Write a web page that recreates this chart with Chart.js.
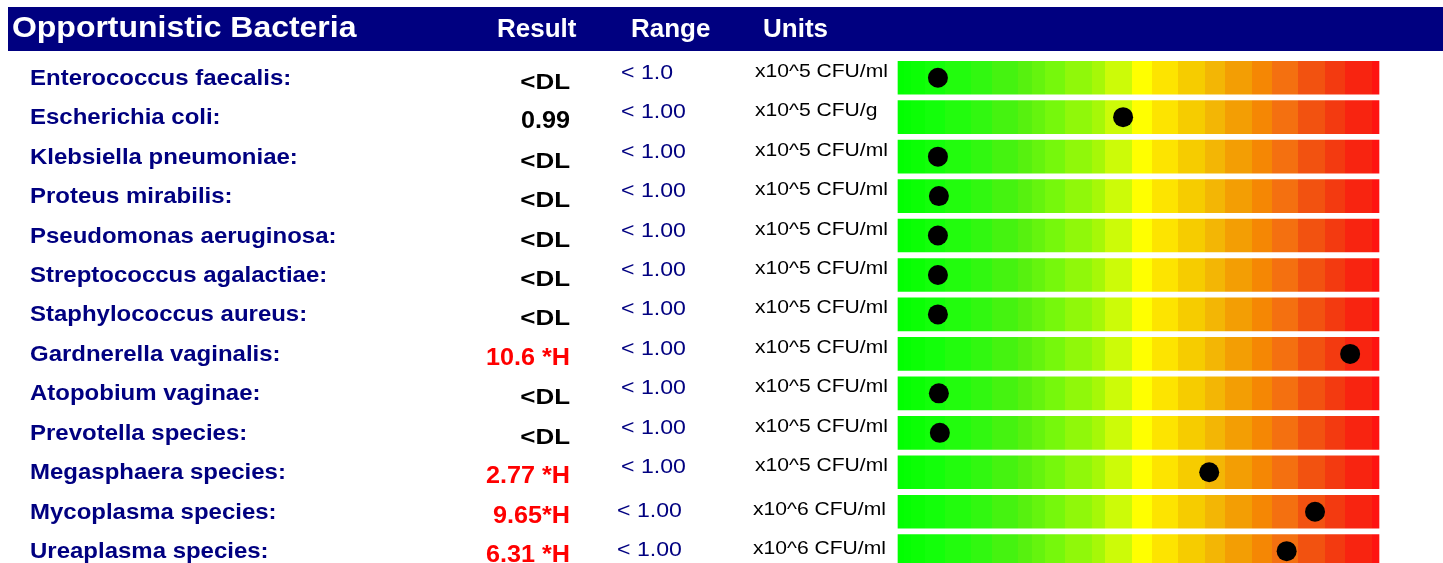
<!DOCTYPE html>
<html>
<head>
<meta charset="utf-8">
<script src="https://cdn.jsdelivr.net/npm/chart.js@4.4.1/dist/chart.umd.min.js"></script>
<style>
  html, body { margin: 0; padding: 0; background: #fff; overflow: hidden; }
  canvas { display: block; }
</style>
</head>
<body>
<canvas id="chart" width="1443" height="563"></canvas>
<script>
const title = 'Opportunistic Bacteria';
const headers = ['Result', 'Range', 'Units'];
const organisms = [
  'Enterococcus faecalis:', 'Escherichia coli:', 'Klebsiella pneumoniae:', 'Proteus mirabilis:',
  'Pseudomonas aeruginosa:', 'Streptococcus agalactiae:', 'Staphylococcus aureus:',
  'Gardnerella vaginalis:', 'Atopobium vaginae:', 'Prevotella species:', 'Megasphaera species:',
  'Mycoplasma species:', 'Ureaplasma species:'
];
const results = ['<DL', '0.99', '<DL', '<DL', '<DL', '<DL', '<DL', '10.6 *H', '<DL', '<DL', '2.77 *H', '9.65*H', '6.31 *H'];
const ranges = ['< 1.0', '< 1.00', '< 1.00', '< 1.00', '< 1.00', '< 1.00', '< 1.00', '< 1.00', '< 1.00', '< 1.00', '< 1.00', '< 1.00', '< 1.00'];
const units = [
  'x10^5 CFU/ml', 'x10^5 CFU/g', 'x10^5 CFU/ml', 'x10^5 CFU/ml', 'x10^5 CFU/ml', 'x10^5 CFU/ml',
  'x10^5 CFU/ml', 'x10^5 CFU/ml', 'x10^5 CFU/ml', 'x10^5 CFU/ml', 'x10^5 CFU/ml', 'x10^6 CFU/ml', 'x10^6 CFU/ml'
];
// marker position along the gauge (0 = left end, 100 = right end)
const gaugePos = [8.3, 46.8, 8.3, 8.5, 8.3, 8.3, 8.3, 94.0, 8.5, 8.7, 64.7, 86.7, 80.8];
const gaugeMax = 100;

const NAVY = '#000080';
const FONT = '"Liberation Sans", Arial, Helvetica, sans-serif';

// colour bands of the gauge (edges as fraction of width) and key colours
const bandEdges = [0, .012, .028, .056, .098, .152, .195, .25, .278, .306, .347, .403, .43,
  .486, .528, .583, .638, .68, .735, .777, .832, .888, .929, .985, 1];
const keyColors = [
  [0, [0, 255, 0]], [0.08, [20, 255, 10]], [0.17, [48, 248, 16]], [0.25, [80, 240, 16]],
  [0.33, [120, 248, 12]], [0.42, [168, 248, 8]], [0.47, [216, 252, 8]], [0.507, [255, 255, 0]],
  [0.56, [253, 226, 0]], [0.62, [245, 200, 0]], [0.68, [242, 172, 8]], [0.74, [245, 142, 0]],
  [0.80, [244, 114, 16]], [0.86, [242, 82, 16]], [0.93, [244, 48, 16]], [1, [255, 16, 16]]
];

function colorAt(t) {
  for (let k = 1; k < keyColors.length; k++) {
    const [t1, c1] = keyColors[k];
    const [t0, c0] = keyColors[k - 1];
    if (t <= t1) {
      const f = (t - t0) / (t1 - t0);
      const c = c0.map((v, j) => Math.round(v + (c1[j] - v) * f));
      return `rgb(${c[0]},${c[1]},${c[2]})`;
    }
  }
  return 'rgb(255,16,16)';
}

function gaugeFill(context) {
  const chart = context.chart;
  if (!chart.chartArea) return '#0f0';
  const x = chart.scales.x;
  const x0 = x.getPixelForValue(0), x1 = x.getPixelForValue(gaugeMax);
  const g = chart.ctx.createLinearGradient(x0, 0, x1, 0);
  for (let b = 0; b < bandEdges.length - 1; b++) {
    const col = colorAt((bandEdges[b] + bandEdges[b + 1]) / 2);
    g.addColorStop(bandEdges[b], col);
    g.addColorStop(bandEdges[b + 1], col);
  }
  return g;
}

function txt(ctx, s, x, y, size, bold, color, align, sx) {
  ctx.save();
  ctx.font = (bold ? 'bold ' : '') + size + 'px ' + FONT;
  ctx.fillStyle = color;
  ctx.textBaseline = 'alphabetic';
  ctx.textAlign = 'left';
  const w = ctx.measureText(s).width * sx;
  ctx.translate(align === 'right' ? x - w : x, y);
  ctx.scale(sx, 1);
  ctx.fillText(s, 0, 0);
  ctx.restore();
}

const tablePlugin = {
  id: 'table',
  beforeDraw(chart) {
    const ctx = chart.ctx;
    ctx.save();
    ctx.fillStyle = NAVY;
    ctx.fillRect(8, 7, 1435, 44);
    ctx.restore();
    txt(ctx, title, 12, 37, 30, true, '#fff', 'left', 1.065);
    const hx = [497, 631, 763];
    headers.forEach((h, i) => txt(ctx, h, hx[i], 36.5, 25, true, '#fff', 'left', 1.04));
  },
  afterDraw(chart) {
    const ctx = chart.ctx;
    const y = chart.scales.y;
    organisms.forEach((name, i) => {
      const c = y.getPixelForValue(i);
      // the x10^6 rows sit a little lower and further left in the original
      const shift = units[i].includes('^6') ? 4 : 0;
      txt(ctx, name, 30, c + 7, 22, true, NAVY, 'left', 1.09);
      const r = results[i];
      if (r === '<DL') {
        txt(ctx, r, 570, c + 11, 22, true, '#000', 'right', 1.18);
      } else {
        txt(ctx, r, 570, c + 11, 24, true, r.includes('H') ? '#ff0000' : '#000', 'right', 1.05);
      }
      txt(ctx, ranges[i], 621 - shift, c + 1 + shift, 21, false, NAVY, 'left', 1.1);
      txt(ctx, units[i], 755 - shift / 2, c - 1 + shift, 19, false, '#000', 'left', 1.11);
    });
  }
};

new Chart(document.getElementById('chart'), {
  type: 'bar',
  data: {
    datasets: [
      {
        type: 'scatter',
        data: gaugePos.map((v, i) => ({ x: v, y: i })),
        backgroundColor: '#000',
        borderWidth: 0,
        pointRadius: 10,
        order: 0
      },
      {
        data: organisms.map((_, i) => ({ x: gaugeMax, y: i })),
        backgroundColor: gaugeFill,
        borderWidth: 0,
        barThickness: 33,
        clip: false,
        order: 1
      }
    ]
  },
  options: {
    indexAxis: 'y',
    responsive: false,
    animation: false,
    devicePixelRatio: 1,
    layout: { autoPadding: false, padding: { left: 898, right: 64, top: 58, bottom: 0 } },
    scales: {
      x: { type: 'linear', min: 0, max: gaugeMax, offset: false, display: false },
      y: { type: 'linear', min: -0.5, max: 12.3, reverse: true, offset: false, display: false }
    },
    plugins: { legend: { display: false }, tooltip: { enabled: false } }
  },
  plugins: [tablePlugin]
});
</script>
</body>
</html>
